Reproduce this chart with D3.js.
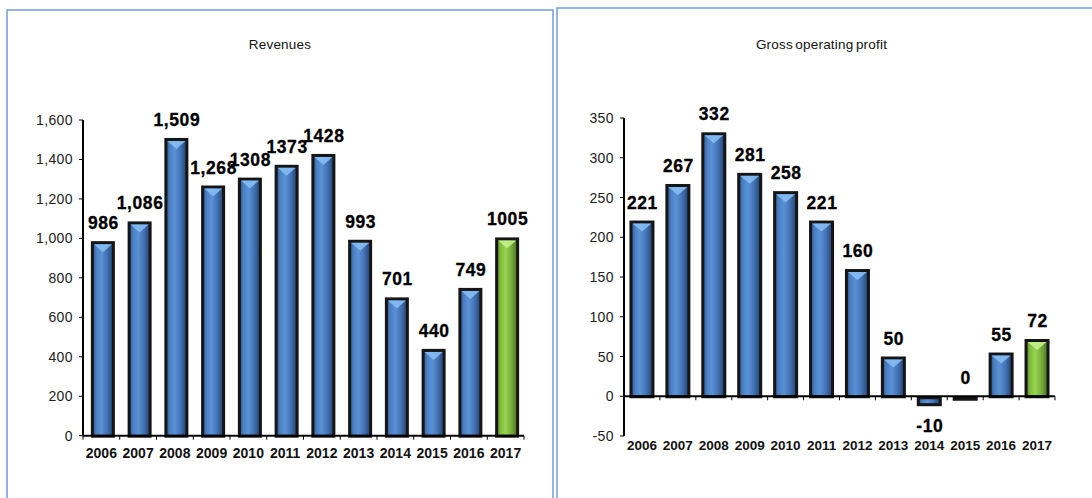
<!DOCTYPE html>
<html>
<head>
<meta charset="utf-8">
<script src="https://cdn.jsdelivr.net/npm/d3@7"></script>
<style>
  html, body { margin: 0; padding: 0; background: #fff; overflow: hidden; }
  svg { display: block; font-family: "Liberation Sans", Arial, sans-serif; }
</style>
</head>
<body>
<svg id="chart" width="1092" height="498"></svg>
<script>
// ---- Data ----
const years = ["2006", "2007", "2008", "2009", "2010", "2011", "2012", "2013", "2014", "2015", "2016", "2017"];

const revenues = [986, 1086, 1509, 1268, 1308, 1373, 1428, 993, 701, 440, 749, 1005];
const revenueLabels = ["986", "1,086", "1,509", "1,268", "1308", "1373", "1428", "993", "701", "440", "749", "1005"];
const revenueTicks = [0, 200, 400, 600, 800, 1000, 1200, 1400, 1600];

const grossProfit = [221, 267, 332, 281, 258, 221, 160, 50, -10, 0, 55, 72];
const grossProfitLabels = ["221", "267", "332", "281", "258", "221", "160", "50", "-10", "0", "55", "72"];
const grossProfitTicks = [-50, 0, 50, 100, 150, 200, 250, 300, 350];

// last year is highlighted in green
const highlightYear = "2017";

const svg = d3.select("#chart");
const defs = svg.append("defs");

// ---- Gradients for the bevelled bars ----
function addGradient(id, stops) {
  const g = defs.append("linearGradient")
    .attr("id", id)
    .attr("x1", "0%").attr("x2", "100%")
    .attr("y1", "0%").attr("y2", "0%");
  stops.forEach(([o, c]) => g.append("stop").attr("offset", o).attr("stop-color", c));
}
addGradient("blueBar", [
  ["0%", "#2b4f85"], ["18%", "#4a7fc2"], ["42%", "#5a92d6"],
  ["70%", "#4272b4"], ["100%", "#243f6c"]
]);
addGradient("greenBar", [
  ["0%", "#557f24"], ["18%", "#80bb3c"], ["42%", "#96d452"],
  ["70%", "#78ad3a"], ["100%", "#4a6e1f"]
]);

function drawPanel(opts) {
  const g = svg.append("g");

  // ---- Panel frame + title ----
  g.append("rect")
    .attr("x", opts.frame[0]).attr("y", opts.frame[1])
    .attr("width", opts.frame[2]).attr("height", opts.frame[3])
    .attr("fill", "#fff")
    .attr("stroke", "#6f9ddb")
    .attr("stroke-width", 1.5);

  g.append("text")
    .attr("x", opts.frame[0] + opts.frame[2] / 2 - (opts.titleShift || 0))
    .attr("y", 49)
    .attr("text-anchor", "middle")
    .style("font-size", "13.5px")
    .style("word-spacing", opts.wordSpacing || "0px")
    .style("letter-spacing", "0.2px")
    .style("fill", "#111")
    .text(opts.title);

  // ---- Scales ----
  const x = d3.scaleBand()
    .domain(years)
    .range(opts.xRange);

  const y = d3.scaleLinear()
    .domain(opts.yDomain)
    .range(opts.yRange);

  const data = years.map((yr, i) => ({ year: yr, value: opts.values[i], label: opts.labels[i] }));

  // ---- Bars ----
  const bw = opts.barWidth;
  const bars = g.selectAll("g.bar")
    .data(data)
    .join("g")
    .attr("class", "bar");

  bars.append("rect")
    .attr("x", d => x(d.year) + x.bandwidth() / 2 - bw / 2 + 1.5 + opts.barShift)
    .attr("y", d => Math.min(y(d.value), y(0)) + 1.5)
    .attr("width", bw - 3)
    .attr("height", d => Math.max(Math.abs(y(d.value) - y(0)) - 1, 1.5))
    .attr("fill", d => d.year === highlightYear ? "url(#greenBar)" : "url(#blueBar)")
    .attr("stroke", "#151515")
    .attr("stroke-width", 3);

  // light chevron on top of each positive bar
  bars.filter(d => y(0) - y(d.value) > 12)
    .append("path")
    .attr("d", d => {
      const cx = x(d.year) + x.bandwidth() / 2 + opts.barShift;
      const t = y(d.value) + 3;
      const hw = bw / 2 - 3;
      return `M${cx - hw},${t} L${cx + hw},${t} L${cx},${t + 8} Z`;
    })
    .attr("fill", d => d.year === highlightYear ? "#c2ef8a" : "#86bcf3")
    .attr("opacity", 0.9);

  // ---- Value labels ----
  g.selectAll("text.value")
    .data(data)
    .join("text")
    .attr("class", "value")
    .attr("x", d => x(d.year) + x.bandwidth() / 2 + opts.barShift + 0.5)
    .attr("y", d => d.value < 0 ? y(d.value) + 28 : y(d.value) - 12)
    .attr("text-anchor", "middle")
    .style("font-size", "17.5px")
    .style("font-weight", "bold")
    .style("letter-spacing", "0.6px")
    .style("fill", "#000")
    .style("stroke", "#000")
    .style("stroke-width", 0.3)
    .text(d => d.label);

  // ---- Axes ----
  const x0 = opts.xRange[0];
  g.append("line")
    .attr("x1", x0).attr("x2", x0)
    .attr("y1", y(opts.yDomain[1])).attr("y2", y(opts.yDomain[0]))
    .attr("stroke", "#000").attr("stroke-width", 2);

  g.append("line")
    .attr("x1", x0).attr("x2", opts.xRange[1])
    .attr("y1", y(0)).attr("y2", y(0))
    .attr("stroke", "#000").attr("stroke-width", 2);

  // y ticks
  g.selectAll("line.ytick")
    .data(opts.ticks)
    .join("line")
    .attr("class", "ytick")
    .attr("x1", x0 - 4).attr("x2", x0)
    .attr("y1", d => y(d)).attr("y2", d => y(d))
    .attr("stroke", "#000").attr("stroke-width", 1);

  g.selectAll("text.ylab")
    .data(opts.ticks)
    .join("text")
    .attr("class", "ylab")
    .attr("x", x0 - 10)
    .attr("y", d => y(d) + 5)
    .attr("text-anchor", "end")
    .style("font-size", "14px")
    .style("letter-spacing", "0.4px")
    .style("fill", "#222")
    .text(d => d.toLocaleString("en-US"));

  // x ticks at band boundaries
  const bounds = years.map(yr => x(yr)).concat([opts.xRange[1]]);
  g.selectAll("line.xtick")
    .data(bounds)
    .join("line")
    .attr("class", "xtick")
    .attr("x1", d => d).attr("x2", d => d)
    .attr("y1", y(0)).attr("y2", y(0) + 4)
    .attr("stroke", "#000").attr("stroke-width", 1);

  g.selectAll("text.xlab")
    .data(years)
    .join("text")
    .attr("class", "xlab")
    .attr("x", d => x(d) + x.bandwidth() / 2)
    .attr("y", opts.xLabelY)
    .attr("text-anchor", "middle")
    .style("font-size", opts.xLabelSize)
    .style("font-weight", "bold")
    .style("fill", "#111")
    .text(d => d);
}

drawPanel({
  title: "Revenues",
  frame: [7, 10, 546, 500],
  values: revenues,
  labels: revenueLabels,
  ticks: revenueTicks,
  xRange: [83, 524],
  yDomain: [0, 1600],
  yRange: [435.7, 120],
  barWidth: 24,
  barShift: 1.5,
  xLabelY: 458,
  xLabelSize: "14px"
});

drawPanel({
  title: "Gross operating profit",
  frame: [557, 8, 545, 502],
  titleShift: 8,
  wordSpacing: "-1.5px",
  values: grossProfit,
  labels: grossProfitLabels,
  ticks: grossProfitTicks,
  xRange: [624, 1055],
  yDomain: [-50, 350],
  yRange: [436, 118],
  barWidth: 25,
  barShift: 0,
  xLabelY: 449.5,
  xLabelSize: "13.5px"
});
</script>
</body>
</html>
